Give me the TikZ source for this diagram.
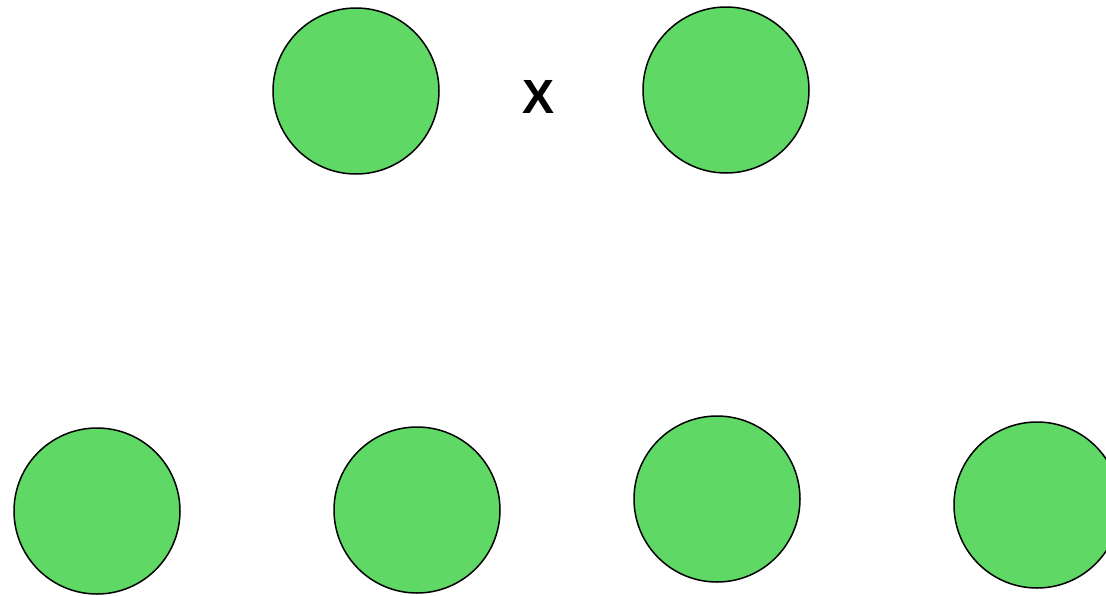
\documentclass[tikz,border=0pt]{standalone}
\usepackage{fontspec}
\usepackage{xcolor}
\usepackage{tikz}
\setmainfont{Liberation Sans}
\definecolor{CellGreen}{HTML}{60D866}
\tikzset{
  cell/.style={circle, draw=black, fill=CellGreen, line width=1.5pt,
    minimum size=166pt, inner sep=0pt},
}

\begin{document}
\begin{tikzpicture}[x=1pt, y=-1pt]
  \useasboundingbox (0,0) rectangle (1106,595);
  % parents
  \node[cell] (parentA) at (356, 91) {};
  \node[cell] (parentB) at (726, 90) {};
  \node (cross) at (539, 97) {\bfseries\fontsize{48}{48}\selectfont X};
  % offspring
  \node[cell] (childA) at (97, 511) {};
  \node[cell] (childB) at (417, 510) {};
  \node[cell] (childC) at (717, 499) {};
  \node[cell] (childD) at (1037, 505) {};
\end{tikzpicture}
\end{document}
